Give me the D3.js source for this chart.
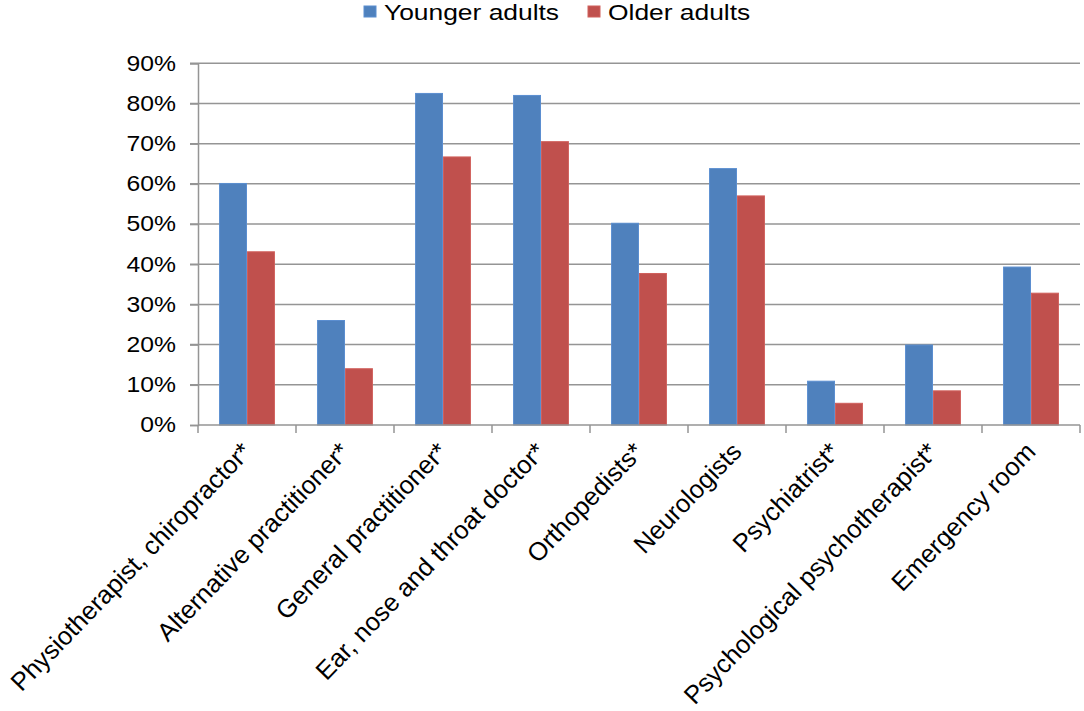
<!DOCTYPE html>
<html><head><meta charset="utf-8">
<script src="https://cdn.jsdelivr.net/npm/d3@7"></script>
<style>body{margin:0;background:#fff}svg{display:block}text{font-family:"Liberation Sans",Arial,sans-serif;fill:#000}</style>
</head><body><svg id="c" width="1084" height="711"></svg>
<script>
const categories = ["Physiotherapist, chiropractor*","Alternative practitioner*","General practitioner*","Ear, nose and throat doctor*","Orthopedists*","Neurologists","Psychiatrist*","Psychological psychotherapist*","Emergency room"];
const seriesNames = ["Younger adults","Older adults"];
const younger = [60.1, 26.0, 82.5, 82.0, 50.2, 63.8, 10.9, 19.9, 39.3];
const older = [43.1, 14.0, 66.7, 70.5, 37.7, 57.0, 5.4, 8.5, 32.8];
const yTicks = [0,10,20,30,40,50,60,70,80,90];
const colors = ["#4F81BD","#C0504D"];
const strokes = ["#5B8ED0","#D0605C"];

const svg = d3.select("#c");
const L = 198, R = 1080, T = 63.3, B = 425;
const x = d3.scaleBand().domain(categories).range([L,R]).paddingInner(0.43).paddingOuter(0.215);
const xs = d3.scaleBand().domain(seriesNames).range([0,x.bandwidth()]);
const y = d3.scaleLinear().domain([0,90]).range([B,T]);

// gridlines
svg.append("g").selectAll("line").data(yTicks.filter(d=>d>0)).join("line")
  .attr("x1",L-8).attr("x2",R).attr("y1",d=>y(d)).attr("y2",d=>y(d))
  .attr("stroke","#959595").attr("stroke-width",1.5);

// y axis
const ya = svg.append("g").attr("transform",`translate(${L},0)`)
  .call(d3.axisLeft(y).tickValues(yTicks).tickFormat(d=>d+"%").tickSize(8).tickPadding(0));
ya.select(".domain").attr("stroke","#959595").attr("stroke-width",1.5);
ya.selectAll(".tick line").attr("stroke","#959595").attr("stroke-width",1.5);
ya.selectAll("text").attr("font-size",21.5).attr("font-family","Liberation Sans, Arial, sans-serif").attr("fill","#000")
  .attr("x",0).attr("transform","translate(-22,0) scale(1.15,1)");

// bars
const data = categories.map((c,i)=>({c, v:[younger[i],older[i]]}));
const g = svg.append("g");
data.forEach(d=>{
  seriesNames.forEach((s,j)=>{
    g.append("rect").attr("x",x(d.c)+xs(s)+0.5).attr("y",y(d.v[j]))
     .attr("width",xs.bandwidth()-1).attr("height",B-y(d.v[j]))
     .attr("fill",colors[j]).attr("stroke",strokes[j]).attr("stroke-width",1);
  });
});

// x axis
const xa = svg.append("g").attr("transform",`translate(0,${B})`);
xa.append("line").attr("x1",L).attr("x2",R).attr("stroke","#959595").attr("stroke-width",1.5);
const tickX = categories.map((c,i)=>L + i*(R-L)/categories.length).concat([R]);
xa.selectAll("line.t").data(tickX).join("line").attr("class","t")
  .attr("x1",d=>d).attr("x2",d=>d).attr("y1",0).attr("y2",8)
  .attr("stroke","#959595").attr("stroke-width",1.5);
xa.selectAll("text").data(categories).join("text")
  .attr("transform",d=>`translate(${x(d)+x.bandwidth()/2+6},${28}) rotate(-46)`)
  .attr("text-anchor","end").attr("font-size",25.5).text(d=>d);

// legend
const leg = svg.append("g");
const legX = [364, 588];
seriesNames.forEach((s,j)=>{
  leg.append("rect").attr("x",legX[j]).attr("y",6).attr("width",12).attr("height",11)
    .attr("fill",colors[j]).attr("stroke",strokes[j]);
  leg.append("text").attr("transform",`translate(${legX[j]+20},20) scale(1.2,1)`).attr("font-size",22).text(s);
});
</script></body></html>
